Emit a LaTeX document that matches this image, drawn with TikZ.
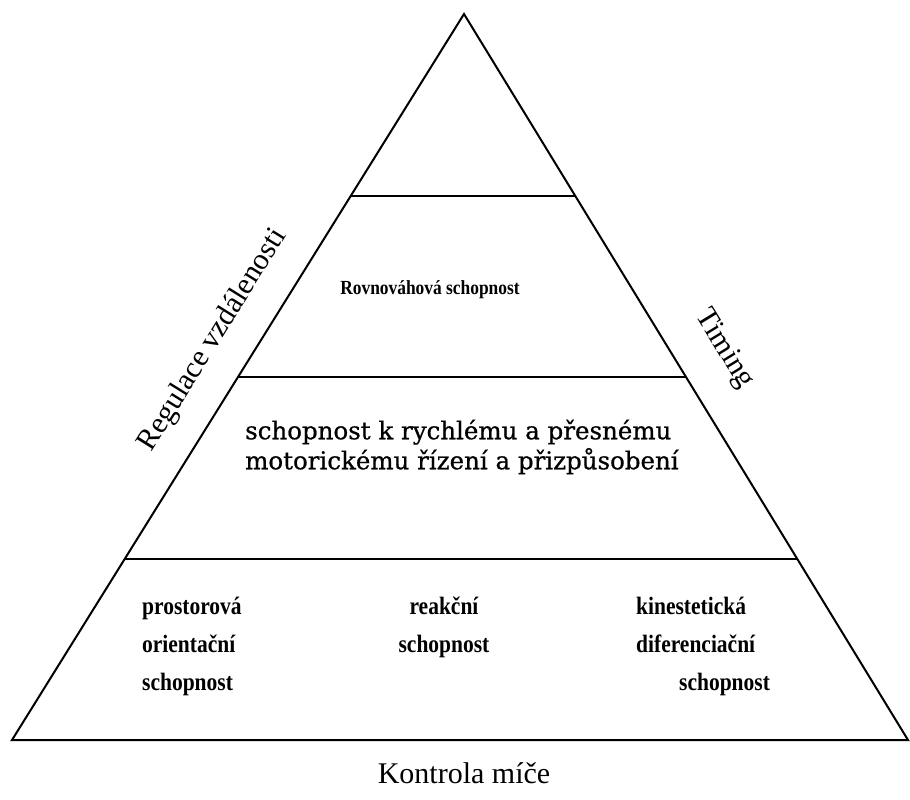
\documentclass[tikz,border=0pt]{standalone}
\usepackage{fontspec}
\setmainfont{Liberation Serif}
\newfontfamily\midfont[FakeBold=0.7]{DejaVu Serif}
\usetikzlibrary{calc}
\begin{document}
\begin{tikzpicture}[x=1pt,y=-1pt,
  edge/.style={line width=2pt, line join=miter},
  band/.style={line width=2pt},
  side/.style={font=\fontsize{30}{30}\selectfont, inner sep=0pt},
  lowtxt/.style={font=\bfseries\fontsize{25}{38}\selectfont, inner sep=0pt, xscale=0.86, transform shape},
  midtxt/.style={font=\midfont\fontsize{24.5}{30}\selectfont, inner sep=0pt, align=left},
  toptxt/.style={font=\bfseries\fontsize{20}{22}\selectfont, inner sep=0pt, xscale=0.87, transform shape}]
\useasboundingbox (0,0) rectangle (910,800);
\coordinate (A) at (464,14);
\coordinate (L) at (12,740);
\coordinate (R) at (908,740);
\draw[edge] (A) -- (L) -- (R) -- cycle;
\coordinate (l1) at ($(A)!0.25!(L)$);
\coordinate (r1) at ($(A)!0.25!(R)$);
\coordinate (l2) at ($(A)!0.5!(L)$);
\coordinate (r2) at ($(A)!0.5!(R)$);
\coordinate (l3) at ($(A)!0.75!(L)$);
\coordinate (r3) at ($(A)!0.75!(R)$);
\draw[band] (l1) -- (r1);
\draw[band] (l2) -- (r2);
\draw[band] (l3) -- (r3);
\node[toptxt] (rov) at (430,290) {Rovnováhová schopnost};
\node[midtxt, anchor=west] (mid) at (245,447) {schopnost k rychlému a přesnému\\motorickému řízení a přizpůsobení};
\node[lowtxt, align=left, anchor=west] (pro) at (142,646) {prostorová\\orientační\\schopnost};
\node[lowtxt, align=center] (rea) at (444,627) {reakční\\schopnost};
\node[lowtxt, align=left, anchor=west] (kin) at (636,646) {kinestetická\\diferenciační\\\hspace*{50pt}schopnost};
\node[side, rotate=58.1] (reg) at (213,340) {Regulace vzdálenosti};
\node[side, rotate=-58.5] (tim) at (724,349) {Timing};
\node[side] (kon) at (464,773) {Kontrola míče};
\end{tikzpicture}
\end{document}
